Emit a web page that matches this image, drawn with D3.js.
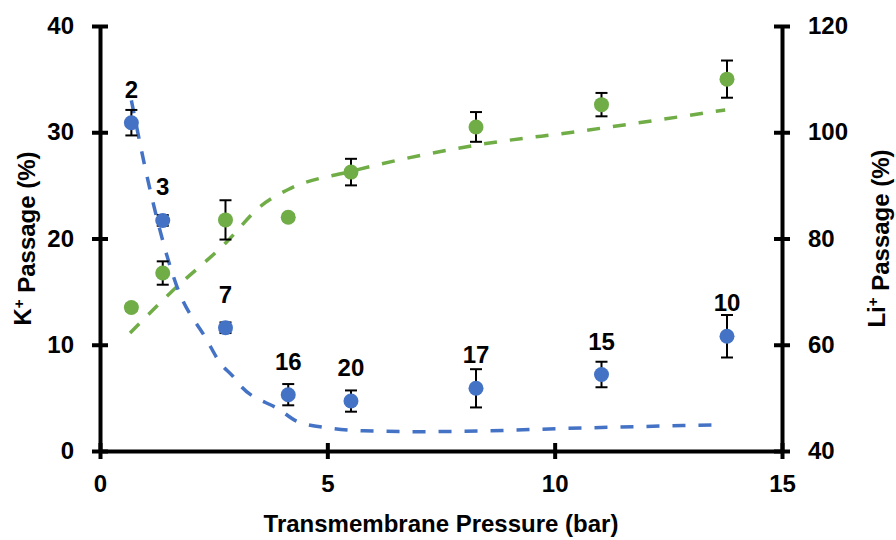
<!DOCTYPE html>
<html>
<head>
<meta charset="utf-8">
<script src="https://cdn.jsdelivr.net/npm/d3@7"></script>
<style>
  body { margin: 0; background: #fff; }
  text { font-family: "Liberation Sans", Arial, sans-serif; font-weight: bold; fill: #000; }
</style>
</head>
<body>
<div class="chart"></div>
<script>
// pressure values (bar)
var pressure = [0.69, 1.38, 2.76, 4.14, 5.52, 8.27, 11.03, 13.79];
// K+ passage (%) - left axis
var kPass = [30.9, 21.7, 11.6, 5.3, 4.7, 5.9, 7.2, 10.8];
var kErr  = [1.2, 0.5, 0.5, 1.0, 1.0, 1.8, 1.2, 2.0];
// Li+ passage (%) - right axis
var liPass = [67.0, 73.5, 83.5, 84.0, 92.5, 101.0, 105.2, 110.0];
var liErr  = [0.6, 2.2, 3.7, 0.6, 2.5, 2.8, 2.2, 3.5];
// selectivity labels above K+ points
var selLabels = ["2", "3", "7", "16", "20", "17", "15", "10"];
// fitted curves
var kFit = [[0.69,33.0],[1.1,24.6],[1.69,15.5],[2.35,10.45],[2.64,8.3],[2.93,7.0],[3.08,6.2],[3.96,3.86],
            [4.33,2.8],[5.06,2.15],[5.79,1.9],[7.04,1.82],[8.36,1.88],[10.27,2.13],[13.49,2.45]];
var liFit = [[0.66,62.2],[1.54,69.7],[2.79,79.4],[3.52,86.0],[4.18,89.4],[5.5,92.6],
             [8.29,97.6],[10.56,100.2],[13.75,104.2]];

var xTicks = [0, 5, 10, 15];
var yLeftTicks = [0, 10, 20, 30, 40];
var yRightTicks = [40, 60, 80, 100, 120];

var W = 896, H = 540;
var margin = {top: 26, right: 114, bottom: 89, left: 100};
var width = W - margin.left - margin.right;
var height = H - margin.top - margin.bottom;

var blue = "#4472C4", green = "#70AD47";

var svg = d3.select(".chart").append("svg")
    .attr("width", W).attr("height", H);
var g = svg.append("g")
    .attr("transform", "translate(" + margin.left + "," + margin.top + ")");

var x = d3.scaleLinear().domain([0, 15]).range([0, width]);
var yL = d3.scaleLinear().domain([0, 40]).range([height, 0]);
var yR = d3.scaleLinear().domain([40, 120]).range([height, 0]);

// axes
function styleAxis(sel) {
    sel.select(".domain").attr("stroke", "#000").attr("stroke-width", 4);
    sel.selectAll(".tick line").attr("stroke", "#000").attr("stroke-width", 4);
    sel.selectAll(".tick text").style("font-size", "24px");
}

var xAxis = g.append("g")
    .attr("transform", "translate(0," + height + ")")
    .call(d3.axisBottom(x).tickValues(xTicks).tickSize(8).tickSizeOuter(0).tickPadding(14));
xAxis.selectAll(".tick line").attr("y1", -8);
styleAxis(xAxis);
xAxis.selectAll(".tick text").attr("dy", "0.71em").attr("y", 24);

var yAxisL = g.append("g")
    .call(d3.axisLeft(yL).tickValues(yLeftTicks).tickSize(8).tickSizeOuter(0).tickPadding(18));
yAxisL.selectAll(".tick line").attr("x1", 8);
styleAxis(yAxisL);

var yAxisR = g.append("g")
    .attr("transform", "translate(" + width + ",0)")
    .call(d3.axisRight(yR).tickValues(yRightTicks).tickSize(8).tickSizeOuter(0).tickPadding(18));
yAxisR.selectAll(".tick line").attr("x1", -8);
styleAxis(yAxisR);

// fitted dashed lines
var lineL = d3.line().x(function(d){return x(d[0]);}).y(function(d){return yL(d[1]);}).curve(d3.curveMonotoneX);
var lineR = d3.line().x(function(d){return x(d[0]);}).y(function(d){return yR(d[1]);}).curve(d3.curveMonotoneX);

g.append("path").datum(liFit)
    .attr("d", lineR).attr("fill", "none")
    .attr("stroke", green).attr("stroke-width", 3.5).attr("stroke-dasharray", "13,13");
g.append("path").datum(kFit)
    .attr("d", lineL).attr("fill", "none")
    .attr("stroke", blue).attr("stroke-width", 3.5).attr("stroke-dasharray", "13,13");

// error bars + points
function drawSeries(vals, errs, scale, color) {
    var data = pressure.map(function(p, i){ return {x: p, y: vals[i], e: errs[i]}; });
    var eb = g.append("g");
    eb.selectAll(".v").data(data).enter().append("line")
        .attr("x1", function(d){return x(d.x);}).attr("x2", function(d){return x(d.x);})
        .attr("y1", function(d){return scale(d.y - d.e);}).attr("y2", function(d){return scale(d.y + d.e);})
        .attr("stroke", "#000").attr("stroke-width", 2);
    [-1, 1].forEach(function(s){
        eb.selectAll(".c" + s).data(data).enter().append("line")
            .attr("x1", function(d){return x(d.x) - 6;}).attr("x2", function(d){return x(d.x) + 6;})
            .attr("y1", function(d){return scale(d.y + s * d.e);}).attr("y2", function(d){return scale(d.y + s * d.e);})
            .attr("stroke", "#000").attr("stroke-width", 2);
    });
    g.append("g").selectAll("circle").data(data).enter().append("circle")
        .attr("cx", function(d){return x(d.x);})
        .attr("cy", function(d){return scale(d.y);})
        .attr("r", 7.5).attr("fill", color);
    return data;
}
drawSeries(liPass, liErr, yR, green);
var kData = drawSeries(kPass, kErr, yL, blue);

// selectivity labels
g.append("g").selectAll("text").data(kData).enter().append("text")
    .attr("x", function(d){return x(d.x);})
    .attr("y", function(d){return yL(d.y) - 25;})
    .attr("text-anchor", "middle")
    .style("font-size", "24px")
    .text(function(d, i){return selLabels[i];});

// axis titles
svg.append("text")
    .attr("x", margin.left + width / 2).attr("y", 532)
    .attr("text-anchor", "middle").style("font-size", "24px")
    .text("Transmembrane Pressure (bar)");

var tl = svg.append("text")
    .attr("transform", "translate(31," + (margin.top + height / 2) + ") rotate(-90)")
    .attr("text-anchor", "middle").style("font-size", "24px");
tl.append("tspan").text("K");
tl.append("tspan").attr("dy", "-0.45em").style("font-size", "15px").text("+");
tl.append("tspan").attr("dy", "0.45em").text(" Passage (%)");

var tr = svg.append("text")
    .attr("transform", "translate(885," + (margin.top + height / 2) + ") rotate(-90)")
    .attr("text-anchor", "middle").style("font-size", "24px");
tr.append("tspan").text("Li");
tr.append("tspan").attr("dy", "-0.45em").style("font-size", "15px").text("+");
tr.append("tspan").attr("dy", "0.45em").text(" Passage (%)");
</script>
</body>
</html>
